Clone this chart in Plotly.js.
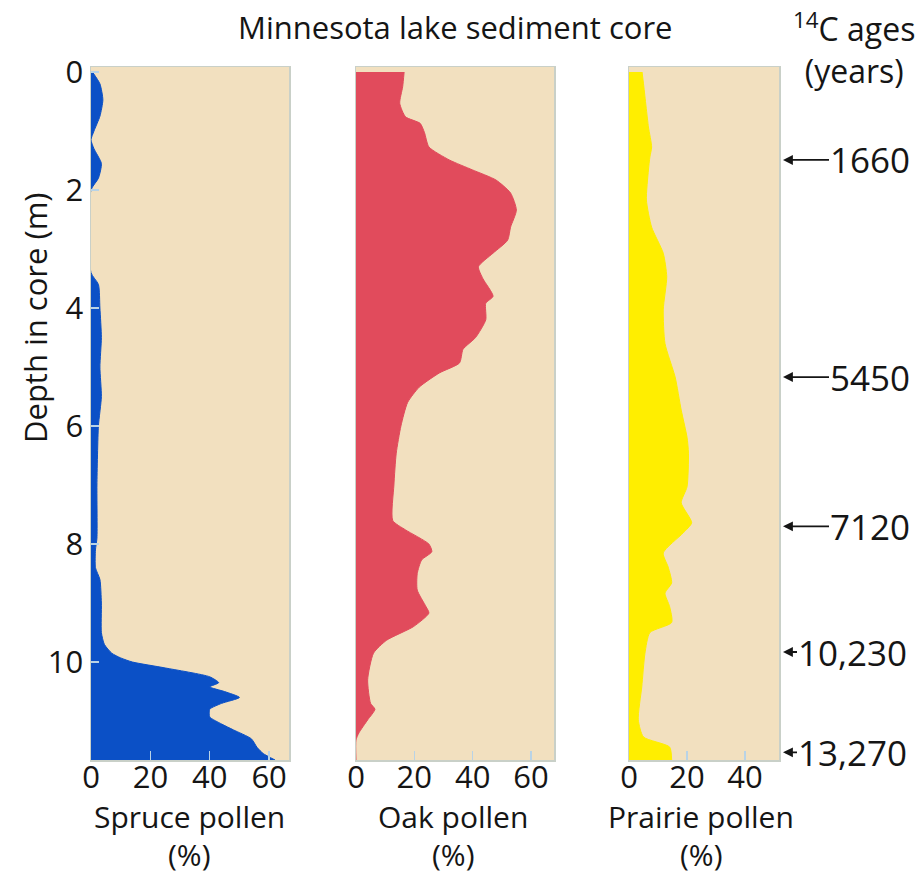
<!DOCTYPE html>
<html>
<head>
<meta charset="utf-8">
<script src="https://cdn.plot.ly/plotly-3.0.1.min.js"></script>
<style>html,body{margin:0;padding:0;background:#fff;}#chart{width:920px;height:874px;}</style>
</head>
<body>
<div id="chart"></div>
<script>
// Spruce pollen (%) vs depth (m)
var spruceDepth = [0, 0.2, 0.47, 0.75, 1.0, 1.15, 1.3, 1.55, 1.8, 2.0, 3.4, 3.6, 4.0, 4.5, 5.0, 5.5, 6.0, 7.0, 7.9, 8.1, 8.4, 8.6, 9.0, 9.5, 9.7, 9.85, 9.93, 10.0, 10.1, 10.25, 10.35, 10.42, 10.5, 10.6, 10.7, 10.8, 10.93, 11.05, 11.15, 11.3, 11.45, 11.55, 11.66];
var sprucePct   = [0.5, 3, 4, 3, 1, 0, 1, 3.5, 2.5, 0, 0, 2.5, 3, 3.5, 3, 3.5, 2.5, 2, 2, 1.5, 1.5, 3, 3.5, 3.5, 4.5, 7, 10, 14, 25, 40, 43, 40, 45, 50, 44, 40, 40, 44, 48, 54, 56, 58, 62];

// Oak pollen (%) vs depth (m)
var oakDepth = [0, 0.25, 0.53, 0.76, 0.87, 1.03, 1.27, 1.49, 1.66, 1.83, 2.05, 2.34, 2.63, 2.85, 3.07, 3.3, 3.5, 3.8, 3.92, 4.2, 4.5, 4.7, 4.93, 5.1, 5.34, 5.6, 6.0, 6.46, 7.0, 7.6, 7.76, 8.0, 8.13, 8.27, 8.5, 8.78, 9.06, 9.17, 9.4, 9.63, 9.85, 10.3, 10.7, 10.8, 10.98, 11.2, 11.32, 11.66];
var oakPct   = [16.5, 16, 15, 17, 22, 23.5, 25, 32, 40, 48, 53, 55, 53, 52, 47, 42, 43.5, 47, 44.5, 44.5, 41, 36.7, 35.5, 28.6, 21.7, 17.7, 15.4, 13.8, 13, 12.6, 17, 25, 26, 22.5, 21, 21, 24, 25, 19.7, 10.5, 6, 4, 5, 6.5, 4, 1, 0, 0];

// Prairie pollen (%) vs depth (m)
var prairieDepth = [0, 0.2, 0.93, 1.27, 1.44, 1.66, 2.17, 2.63, 3.07, 3.47, 4.03, 4.6, 5.17, 5.73, 6.19, 6.46, 7.03, 7.3, 7.64, 7.81, 8.15, 8.39, 8.66, 8.83, 9.06, 9.33, 9.5, 9.85, 10.42, 10.98, 11.27, 11.44, 11.66];
var prairiePct   = [4.5, 5, 6.7, 7.8, 7.2, 6.7, 6, 7.8, 11.8, 13, 11.8, 12.4, 15.9, 18, 20, 20.5, 20, 18, 21.6, 18.7, 11.8, 13.5, 14.7, 12.4, 14, 14.7, 7.2, 5.5, 4.4, 3.2, 5, 14, 14.7];

// 14C ages (years) at depth (m)
var ageLabels = ['1660', '5450', '7120', '10,230', '13,270'];
var ageDepths = [1.49, 5.17, 7.7, 9.83, 11.53];

var panelNames = ['Spruce pollen', 'Oak pollen', 'Prairie pollen'];
var panelUnit = '(%)';
var depthTicks = [0, 2, 4, 6, 8, 10];
var pctTicks12 = [0, 20, 40, 60];
var pctTicks3 = [0, 20, 40];

var FONT = '"Open Sans", "Noto Sans", sans-serif';
var INK = '#151515';
var FS = 31;
var W = 920, H = 874;
var yTop = 67, yBot = 760;
var yDom = [1 - yBot / H, 1 - yTop / H];
var yRange = [11.66, -0.085];

function tr(x, y, color, xa, ya) {
  return {x: x, y: y, xaxis: xa, yaxis: ya, type: 'scatter', mode: 'lines',
    fill: 'tozerox', fillcolor: color, line: {color: color, width: 1, shape: 'spline', smoothing: 0.6},
    hoverinfo: 'x+y', showlegend: false};
}

var data = [
  tr(sprucePct, spruceDepth, '#0B50C6', 'x', 'y'),
  tr(oakPct, oakDepth, '#E14B5C', 'x2', 'y2'),
  tr(prairiePct, prairieDepth, '#FFEE00', 'x3', 'y3')
];

var bg = '#F2E0BF';
var border = '#C9D0C8';
function xax(dom, rng, ticks, anchor) {
  return {domain: [dom[0] / W, dom[1] / W], range: rng, anchor: anchor, tickvals: ticks, ticktext: ticks.map(String),
    ticks: 'inside', ticklen: 9, tickcolor: '#B9D3E6', tickwidth: 1.5,
    showline: true, mirror: true, linecolor: border, linewidth: 1.5,
    showgrid: false, zeroline: false, fixedrange: true,
    tickfont: {family: FONT, size: FS, color: INK}, ticklabelstandoff: -11};
}
function yax(anchor, show) {
  return {domain: yDom, range: yRange, anchor: anchor, tickvals: depthTicks,
    showticklabels: show, ticks: show ? 'inside' : '', ticklen: 8, tickcolor: '#B9D3E6', tickwidth: 1.5,
    showline: true, mirror: true, linecolor: border, linewidth: 1.5,
    showgrid: false, zeroline: false, fixedrange: true,
    tickfont: {family: FONT, size: FS, color: INK}};
}

var annotations = [];
var titleX = [189, 453, 701];
panelNames.forEach(function (t, i) {
  annotations.push({xref: 'paper', yref: 'paper', x: titleX[i] / W, y: 1 - 816 / H, text: t, showarrow: false,
    font: {family: FONT, size: 30, color: INK}, xanchor: 'center', yanchor: 'middle', borderpad: 0});
  annotations.push({xref: 'paper', yref: 'paper', x: titleX[i] / W, y: 1 - 854 / H, text: panelUnit, showarrow: false,
    font: {family: FONT, size: 30, color: INK}, xanchor: 'center', yanchor: 'middle', borderpad: 0});
});
annotations.push({xref: 'paper', yref: 'paper', x: 455 / W, y: 1 - 27 / H, text: 'Minnesota lake sediment core', showarrow: false,
  font: {family: FONT, size: FS, color: INK}, xanchor: 'center', yanchor: 'middle'});
annotations.push({xref: 'paper', yref: 'paper', x: 917 / W, y: 1 - 48 / H, text: '<sup>14</sup>C ages<br>(years)', showarrow: false,
  font: {family: FONT, size: 32, color: INK}, xanchor: 'right', yanchor: 'middle', align: 'center'});
annotations.push({xref: 'paper', yref: 'paper', x: 35 / W, y: 1 - 318 / H, text: 'Depth in core (m)', showarrow: false, textangle: -90,
  font: {family: FONT, size: FS, color: INK}, xanchor: 'center', yanchor: 'middle'});

ageLabels.forEach(function (lab, i) {
  var long = lab.length > 4;
  annotations.push({xref: 'paper', yref: 'y3', x: 783 / W, y: ageDepths[i], text: lab, showarrow: true,
    ax: long ? 14 : 46, ay: 0, xanchor: 'left', yanchor: 'middle', borderpad: 0,
    arrowhead: 2, arrowsize: 1.1, arrowwidth: 1.8, arrowcolor: INK, standoff: 0,
    font: {family: FONT, size: 35, color: INK}});
});

var layout = {
  width: W, height: H, margin: {l: 0, r: 0, t: 0, b: 0},
  paper_bgcolor: '#ffffff', plot_bgcolor: bg,
  xaxis: xax([91, 289], [0, 66.7], pctTicks12, 'y'),
  xaxis2: xax([356, 554], [0, 67.9], pctTicks12, 'y2'),
  xaxis3: xax([629, 779], [0, 51.7], pctTicks3, 'y3'),
  yaxis: yax('x', true),
  yaxis2: yax('x2', false),
  yaxis3: yax('x3', false),
  annotations: annotations,
  showlegend: false,
  font: {family: FONT}
};

Plotly.newPlot('chart', data, layout, {staticPlot: true, displayModeBar: false});
</script>
</body>
</html>
